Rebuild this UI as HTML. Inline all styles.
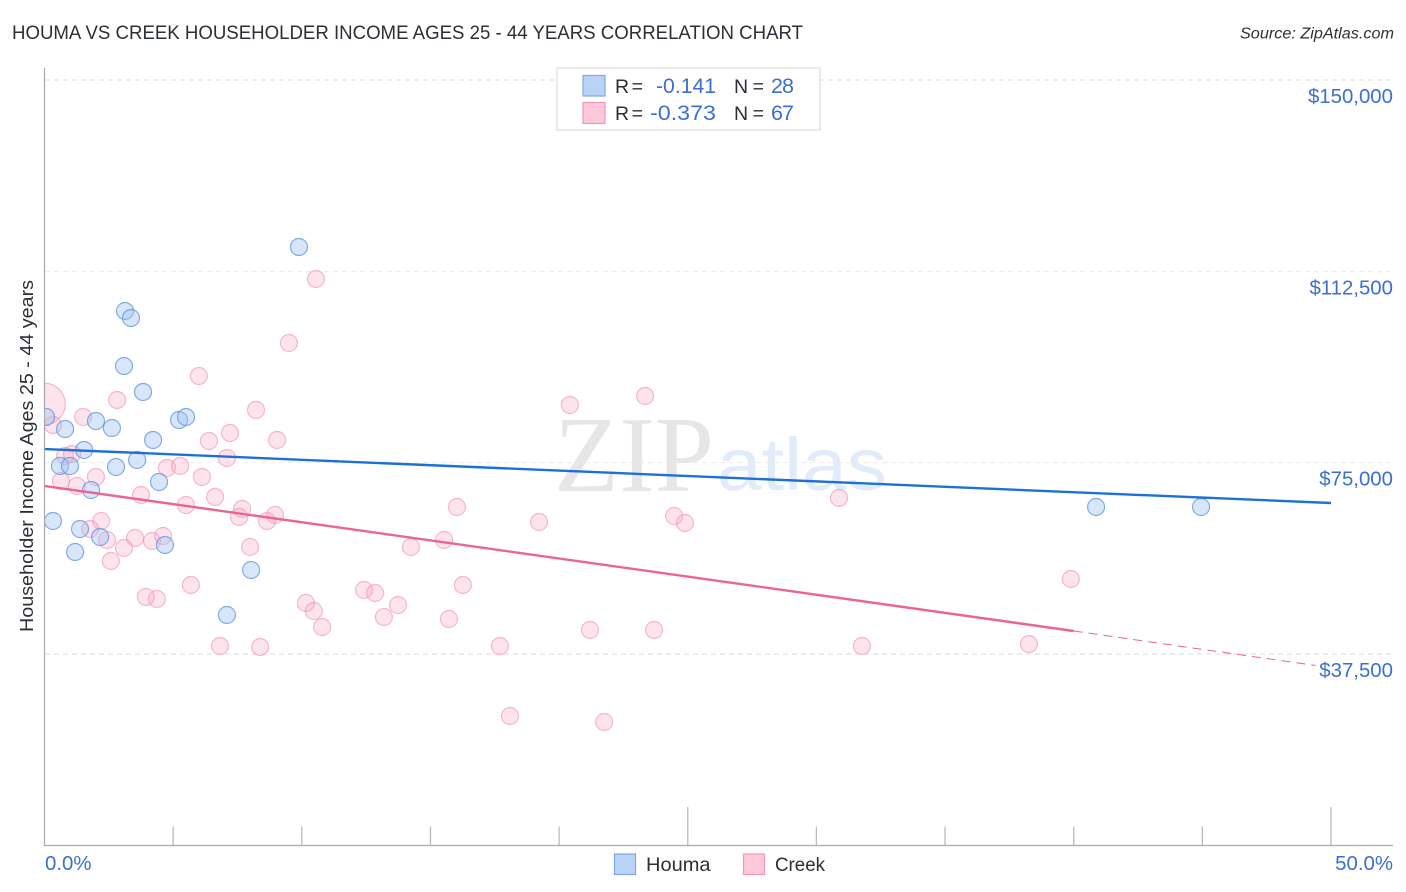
<!DOCTYPE html>
<html lang="en">
<head>
<meta charset="utf-8">
<title>Houma vs Creek Householder Income Ages 25 - 44 Years Correlation Chart</title>
<style>
html,body{margin:0;padding:0;background:#fff;}
svg{display:block;font-family:"Liberation Sans",sans-serif;}
.tick-label{fill:#3b6fd1;font-size:20.4px;}
.dark{fill:#2b2f36;}
</style>
</head>
<body>
<svg id="chart" width="1406" height="892" viewBox="0 0 1406 892" xmlns="http://www.w3.org/2000/svg">
  <defs>
    <clipPath id="plot-clip"><rect x="45" y="60" width="1360" height="786"/></clipPath>
  </defs>
  <rect x="0" y="0" width="1406" height="892" fill="#fff"/>
  <text class="dark" x="12" y="39" font-size="19" textLength="791" lengthAdjust="spacingAndGlyphs">HOUMA VS CREEK HOUSEHOLDER INCOME AGES 25 - 44 YEARS CORRELATION CHART</text>
  <text class="dark" x="1394" y="38.5" font-size="15.5" font-style="italic" text-anchor="end" textLength="154" lengthAdjust="spacingAndGlyphs">Source: ZipAtlas.com</text>
  <text x="554" y="491" font-family="'Liberation Serif',serif" font-size="108" fill="#e6e6e6" textLength="160" lengthAdjust="spacingAndGlyphs">ZIP</text>
  <text x="717" y="490" font-size="74" fill="#e1ebf9" textLength="170" lengthAdjust="spacingAndGlyphs">atlas</text>
  <g id="grid"></g>
  <g id="points" clip-path="url(#plot-clip)"></g>
  <g id="trends" clip-path="url(#plot-clip)"></g>
  <line x1="44.5" y1="68" x2="44.5" y2="846" stroke="#aaa" stroke-width="1.2"/>
  <line x1="44" y1="845.5" x2="1393" y2="845.5" stroke="#aaa" stroke-width="1.2"/>
  <g id="xticks"></g>
  <g id="ylabels"></g>
  <text class="dark" transform="translate(33,632) rotate(-90)" font-size="18.5" textLength="352" lengthAdjust="spacingAndGlyphs">Householder Income Ages 25 - 44 years</text>

  <g>
    <rect x="557" y="68" width="263" height="62" fill="#fff" stroke="#ddd" stroke-width="1.2"/>
    <rect x="583" y="75.5" width="22" height="20.5" fill="#b8d3f6" stroke="#7fa9e4" stroke-width="1.2"/>
    <rect x="583" y="102.5" width="22" height="21" fill="#fcc8da" stroke="#f09ab8" stroke-width="1.2"/>
    <text class="dark" x="615" y="93" font-size="19.5" textLength="28">R =</text>
    <text x="716" y="93" font-size="21.5" fill="#3b6fd1" text-anchor="end" textLength="60" lengthAdjust="spacingAndGlyphs">-0.141</text>
    <text class="dark" x="734" y="93" font-size="19.5" textLength="30">N =</text>
    <text x="771" y="93" font-size="21.5" fill="#3b6fd1" textLength="23">28</text>
    <text class="dark" x="615" y="120" font-size="19.5" textLength="28">R =</text>
    <text x="716" y="120" font-size="21.5" fill="#3b6fd1" text-anchor="end" textLength="66" lengthAdjust="spacingAndGlyphs">-0.373</text>
    <text class="dark" x="734" y="120" font-size="19.5" textLength="30">N =</text>
    <text x="771" y="120" font-size="21.5" fill="#3b6fd1" textLength="23">67</text>
  </g>

  <g>
    <rect x="614.5" y="854" width="21" height="20.5" fill="#b8d3f6" stroke="#7fa9e4" stroke-width="1.2"/>
    <text class="dark" x="646" y="871" font-size="19.5" textLength="64.5" lengthAdjust="spacingAndGlyphs">Houma</text>
    <rect x="743.5" y="854" width="21" height="20.5" fill="#fcc8da" stroke="#f09ab8" stroke-width="1.2"/>
    <text class="dark" x="775" y="871" font-size="19.5" textLength="50" lengthAdjust="spacingAndGlyphs">Creek</text>
  </g>
</svg>
<script>
const houmaX = [0.06,0.80,2.00,2.62,1.54,0.60,0.99,2.78,3.60,4.22,3.83,5.23,5.50,4.45,1.81,0.33,1.38,2.16,1.19,4.68,8.03,7.09,3.13,3.36,3.09,9.89,40.87,44.95];
const houmaY = [83952,81600,83168,81796,77484,74348,74348,74152,75524,79444,88852,83364,83952,71212,69644,63568,62000,60432,57492,58864,53964,45144,104728,103356,93948,117272,66312,66312];
const creekX = [0.0,2.82,1.50,0.33,8.22,6.00,6.39,7.21,9.04,7.09,0.80,1.07,4.76,5.27,6.12,2.00,0.64,1.26,3.75,6.63,5.50,7.68,7.56,8.96,8.65,2.20,1.77,2.43,3.52,4.18,4.61,3.09,2.58,7.99,5.69,3.94,4.37,10.16,10.47,10.79,6.82,8.38,9.50,10.55,20.42,23.34,16.03,15.53,14.24,19.22,24.47,24.89,30.88,39.89,16.26,12.42,12.85,13.74,13.19,15.72,17.70,21.20,23.69,31.77,38.26,18.09,21.75];
const creekY = [86500,87284,83952,82384,85324,91988,79248,80816,79444,75916,76308,76700,73956,74348,72192,72192,71408,70428,68664,68272,66704,65920,64352,64744,63568,63568,62000,59844,60236,59648,60628,58276,55728,58472,51024,48672,48280,47496,45928,42792,39068,38872,98456,111000,86304,88068,66312,59844,58472,63372,64548,63176,68076,52200,51024,50044,49456,47104,44752,44360,39068,42204,42204,39068,39460,25348,24172];
const creekPopulationWeight = [6.0];
const houmaTrendX = [0,50];
const houmaTrendY = [77680,67096];
const creekTrendSolidX = [0,40];
const creekTrendSolidY = [70428,42008];
const creekTrendDashX = [40,49.4];
const creekTrendDashY = [42008,35246];
const yTickValues = [150000,112500,75000,37500];
const yTickLabels = ['$150,000','$112,500','$75,000','$37,500'];
const xTickValues = [5,10,15,20,25,30,35,40,45,50];
const xTickMajor = [25,50];
const xEndValues = [0,50];
const xEndLabels = ['0.0%','50.0%'];

const NS = 'http://www.w3.org/2000/svg';
function xScale(v){ return 44.5 + v * 25.73; }
function yScale(v){ return 654 - (v - 37500) * 191.33 / 37500; }
function make(tag, attrs, parent){
  const el = document.createElementNS(NS, tag);
  for (const k in attrs) el.setAttribute(k, attrs[k]);
  parent.appendChild(el);
  return el;
}
const gridG = document.getElementById('grid');
const ptsG = document.getElementById('points');
const trG = document.getElementById('trends');
const xtG = document.getElementById('xticks');
const ylG = document.getElementById('ylabels');
const chart = document.getElementById('chart');

yTickValues.forEach(function(v, i){
  const y = yScale(v);
  const faint = i === 1 || i === 2;
  const line = make('line', {x1:45, x2:1393, y1:y, y2:y, stroke: faint ? '#ebebeb' : '#d9d9d9', 'stroke-width':1, 'stroke-dasharray':'5 4'}, gridG);
  
  
  const t = make('text', {x:1393, y:y + 23, 'text-anchor':'end', class:'tick-label'}, ylG);
  t.textContent = yTickLabels[i];
  
  
});

xTickValues.forEach(function(v){
  const x = xScale(v);
  const top = xTickMajor.indexOf(v) >= 0 ? 807 : 826.5;
  const tick = make('line', {x1:x, x2:x, y1:top, y2:845, stroke:'#bbb', 'stroke-width':1.3}, xtG);
  
  
});
xEndValues.forEach(function(v, i){
  const anchor = i === 0 ? 'start' : 'end';
  const px = i === 0 ? xScale(v) + 0.5 : 1393;
  const t = make('text', {x:px, y:870, 'text-anchor':anchor, class:'tick-label'}, chart);
  t.textContent = xEndLabels[i];
  
  
});

creekX.forEach(function(v, i){
  const r = i < creekPopulationWeight.length ? 8.5 * Math.sqrt(creekPopulationWeight[i]) : 8.5;
  const c = make('circle', {cx:xScale(v), cy:yScale(creekY[i]), r:r, fill:'#f9a8c4', 'fill-opacity':0.32, stroke:'#ee8fb0', 'stroke-opacity':0.6, 'stroke-width':1.2}, ptsG);
  
  
});
houmaX.forEach(function(v, i){
  const c = make('circle', {cx:xScale(v), cy:yScale(houmaY[i]), r:8.5, fill:'#9fc3f0', 'fill-opacity':0.42, stroke:'#5f93de', 'stroke-opacity':0.75, 'stroke-width':1.2}, ptsG);
  
  
});

const hTrend = make('line', {x1:xScale(houmaTrendX[0]), y1:yScale(houmaTrendY[0]), x2:xScale(houmaTrendX[1]), y2:yScale(houmaTrendY[1]), stroke:'#1f6fd8', 'stroke-width':2.4}, trG);


const cTrend = make('line', {x1:xScale(creekTrendSolidX[0]), y1:yScale(creekTrendSolidY[0]), x2:xScale(creekTrendSolidX[1]), y2:yScale(creekTrendSolidY[1]), stroke:'#ea6497', 'stroke-width':2.4}, trG);


const cDash = make('line', {x1:xScale(creekTrendDashX[0]), y1:yScale(creekTrendDashY[0]), x2:xScale(creekTrendDashX[1]), y2:yScale(creekTrendDashY[1]), stroke:'#ea6497', 'stroke-width':1, 'stroke-dasharray':'9 6'}, trG);


</script>
</body>
</html>
